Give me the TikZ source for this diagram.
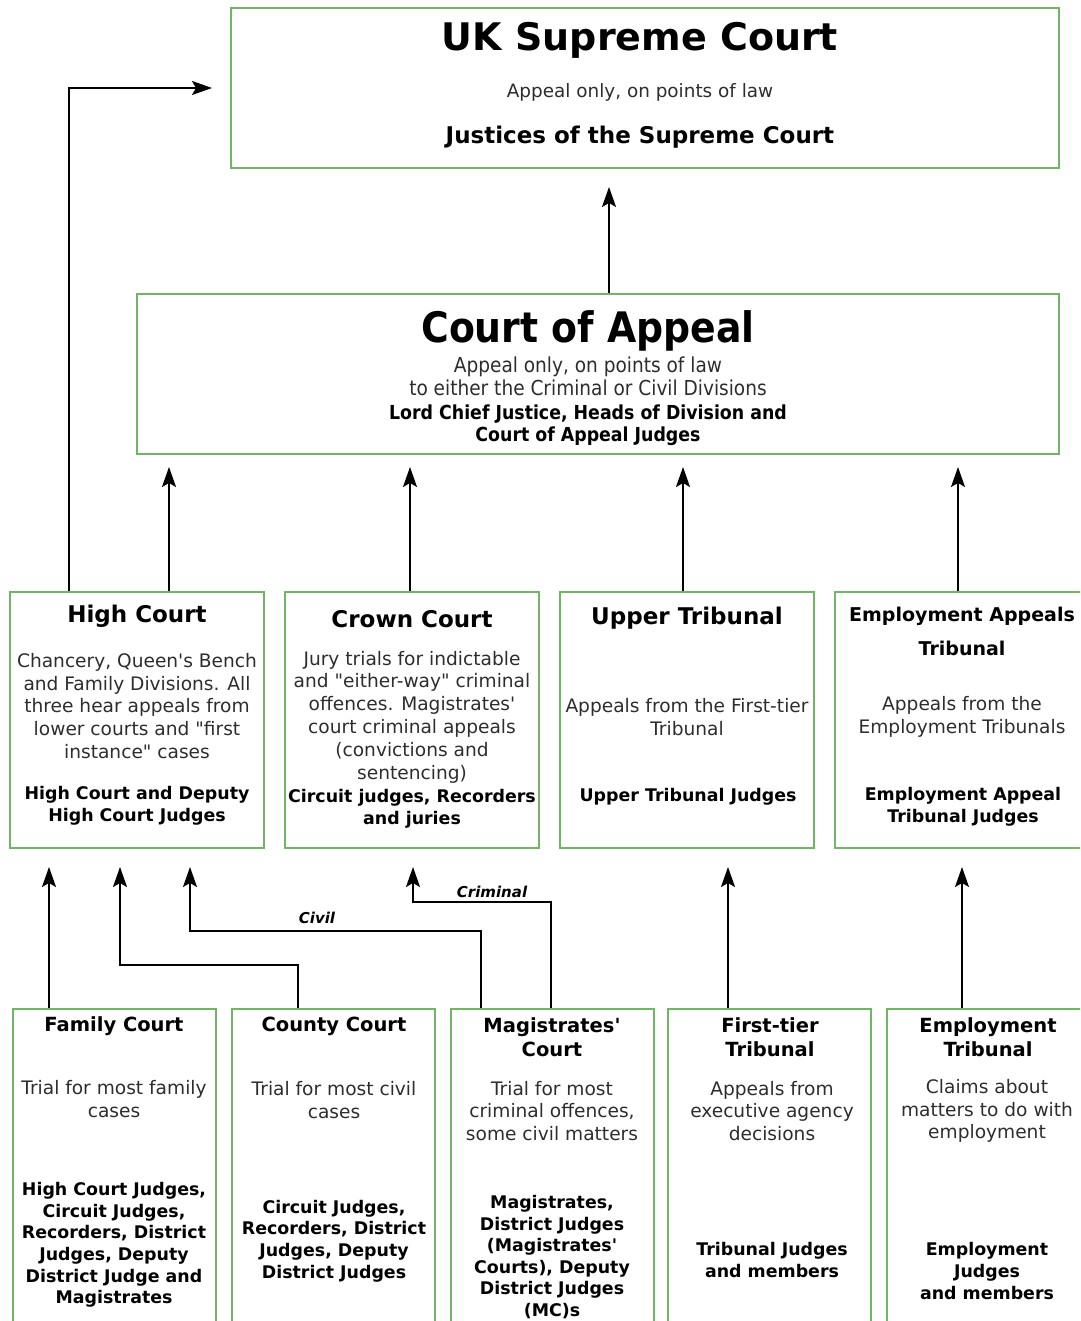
\documentclass[tikz,border=0pt]{standalone}
\usepackage{fontspec}
\setmainfont{DejaVu Sans}
\newfontfamily\condfont{DejaVu Sans Condensed}
\usetikzlibrary{arrows.meta}

\definecolor{boxgreen}{RGB}{112,182,100}
\definecolor{bodygrey}{RGB}{45,45,45}
\newcommand{\fsz}[2]{\fontsize{#1}{#2}\selectfont}
\newcommand{\sq}{\textquotesingle}
\newcommand{\dq}{\textquotedbl}

\begin{document}
\begin{tikzpicture}[x=1pt,y=-1pt,
  court/.style={draw=boxgreen,line width=2pt,inner sep=0pt},
  hd/.style={align=center,inner sep=0pt,font=\bfseries\fsz{23}{28}},
  shd/.style={align=center,inner sep=0pt,font=\bfseries\fsz{19.5}{24}},
  body/.style={align=center,inner sep=0pt,text=bodygrey,font=\fsz{18.6}{22.8}},
  judges/.style={align=center,inner sep=0pt,font=\bfseries\fsz{17.4}{21.6}},
  lbl/.style={inner sep=0pt,font=\bfseries\itshape\fsz{15}{18}},
  arr/.style={-{Stealth[length=20pt,width=14pt,inset=4pt]},line width=1.6pt}]

\useasboundingbox (0,0) rectangle (1080,1321);
\clip (0,0) rectangle (1080,1321);

% top courts
\node (sc)  [court,minimum width=828pt,minimum height=160pt] at (645,88) {};
\node (coa) [court,minimum width=922pt,minimum height=160pt] at (598,374) {};

\node (sct) [inner sep=0pt,font=\bfseries\fsz{38}{44}] at (640,40) {UK Supreme Court};
\node (scs) [body,font=\fsz{18.4}{22}] at (640,92) {Appeal only, on points of law};
\node (scj) [inner sep=0pt,font=\bfseries\fsz{23}{28}] at (640,137) {Justices of the Supreme Court};

\node (coat) [inner sep=0pt,font=\condfont\bfseries\fsz{42}{48}] at (588,331) {Court of Appeal};
\node (coas) [body,font=\condfont\fsz{20.6}{23}] at (588,376) {Appeal only, on points of law\\to either the Criminal or Civil Divisions};
\node (coaj) [judges,font=\condfont\bfseries\fsz{19.3}{22}] at (588,425) {Lord Chief Justice, Heads of Division and\\Court of Appeal Judges};

% middle row
\node (hc)  [court,minimum width=254pt,minimum height=256pt] at (137,720) {};
\node (cc)  [court,minimum width=254pt,minimum height=256pt] at (412,720) {};
\node (ut)  [court,minimum width=254pt,minimum height=256pt] at (687,720) {};
\node (eat) [court,minimum width=254pt,minimum height=256pt] at (962,720) {};

\node (hct) [hd] at (137,616) {High Court};
\node (hcs) [body] at (137,706) {Chancery, Queen\sq s Bench\\and Family Divisions. All\\three hear appeals from\\lower courts and \dq first\\instance\dq{} cases};
\node (hcj) [judges] at (137,806) {High Court and Deputy\\High Court Judges};

\node (cct) [hd] at (412,619) {Crown Court};
\node (ccs) [body] at (412,717) {Jury trials for indictable\\and \dq either-way\dq{} criminal\\offences. Magistrates\sq\\court criminal appeals\\(convictions and\\sentencing)};
\node (ccj) [judges] at (412,809) {Circuit judges, Recorders\\and juries};

\node (utt) [hd] at (687,618) {Upper Tribunal};
\node (uts) [body] at (687,717) {Appeals from the First-tier\\Tribunal};
\node (utj) [judges] at (688,797) {Upper Tribunal Judges};

\node (eatt) [hd,font=\bfseries\fsz{19}{34}] at (962,631) {Employment Appeals\\Tribunal};
\node (eats) [body] at (962,717) {Appeals from the\\Employment Tribunals};
\node (eatj) [judges] at (963,807) {Employment Appeal\\Tribunal Judges};

% bottom row
\node (fam) [court,minimum width=203pt,minimum height=326pt] at (114.5,1172) {};
\node (cty) [court,minimum width=203pt,minimum height=326pt] at (333.5,1172) {};
\node (mag) [court,minimum width=203pt,minimum height=326pt] at (552.5,1172) {};
\node (ft)  [court,minimum width=203pt,minimum height=326pt] at (769.5,1172) {};
\node (emp) [court,minimum width=203pt,minimum height=326pt] at (988.5,1172) {};

\node (famt) [shd] at (114,1026) {Family Court};
\node (fams) [body] at (114,1099) {Trial for most family\\cases};
\node (famj) [judges] at (114,1245) {High Court Judges,\\Circuit Judges,\\Recorders, District\\Judges, Deputy\\District Judge and\\Magistrates};

\node (ctyt) [shd] at (334,1026) {County Court};
\node (ctys) [body] at (334,1100) {Trial for most civil\\cases};
\node (ctyj) [judges] at (334,1241) {Circuit Judges,\\Recorders, District\\Judges, Deputy\\District Judges};

\node (magt) [shd] at (552,1037) {Magistrates\sq\\Court};
\node (mags) [body] at (552,1111) {Trial for most\\criminal offences,\\some civil matters};
\node (magj) [judges] at (552,1257) {Magistrates,\\District Judges\\(Magistrates\sq\\Courts), Deputy\\District Judges\\(MC)s};

\node (ftt) [shd] at (770,1037) {First-tier\\Tribunal};
\node (fts) [body] at (772,1111) {Appeals from\\executive agency\\decisions};
\node (ftj) [judges] at (772,1260) {Tribunal Judges\\and members};

\node (empt) [shd] at (988,1037) {Employment\\Tribunal};
\node (emps) [body] at (987,1111) {Claims about\\matters to do with\\employment};
\node (empj) [judges] at (987,1271) {Employment\\Judges\\and members};

% connector ends
\coordinate (hcout)  at ([xshift=-68pt]hc.north);
\coordinate (ctyout) at ([xshift=-35.5pt]cty.north);
\coordinate (civout) at ([xshift=-71.5pt]mag.north);
\coordinate (criout) at ([xshift=-1.5pt]mag.north);
\coordinate (ctyin)  at ([xshift=-17pt,yshift=-18pt]hc.south);
\coordinate (civin)  at ([xshift=53pt,yshift=-18pt]hc.south);
\coordinate (criin)  at ([xshift=1pt,yshift=-18pt]cc.south);

% appeals upwards
\draw[arr] ([xshift=11pt]coa.north) -- ([xshift=-36pt,yshift=-18pt]sc.south);
\draw[arr] ([xshift=32pt]hc.north) -- ([xshift=-429pt,yshift=-12pt]coa.south);
\draw[arr] ([xshift=-2pt]cc.north) -- ([xshift=-188pt,yshift=-12pt]coa.south);
\draw[arr] ([xshift=-4pt]ut.north) -- ([xshift=85pt,yshift=-12pt]coa.south);
\draw[arr] ([xshift=-4pt]eat.north) -- ([xshift=360pt,yshift=-12pt]coa.south);
\draw[arr] (hcout) |- ([xshift=-18pt]sc.west);

\draw[arr] ([xshift=-65.5pt]fam.north) -- ([xshift=-88pt,yshift=-18pt]hc.south);
\draw[arr] (ctyout) -- ++(0,-43) -| (ctyin);
\draw[arr] (civout) -- ++(0,-77) -| (civin);
\draw[arr] (criout) -- ++(0,-106) -| (criin);
\draw[arr] ([xshift=-41.5pt]ft.north) -- ([xshift=41pt,yshift=-18pt]ut.south);
\draw[arr] ([xshift=-26.5pt]emp.north) -- ([yshift=-18pt]eat.south);

\node (civ) [lbl] at (317,918) {Civil};
\node (cri) [lbl] at (492,892) {Criminal};
\end{tikzpicture}
\end{document}
